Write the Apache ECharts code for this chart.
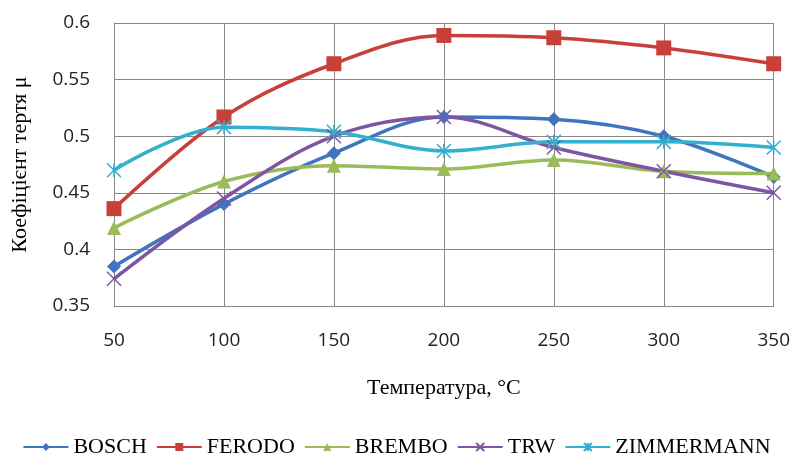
<!DOCTYPE html>
<html>
<head>
    <meta charset="UTF-8">
    <title>Коефіцієнт тертя</title>
    <script src="https://cdn.jsdelivr.net/npm/echarts/dist/echarts.min.js"></script>
</head>
<body style="margin:0;">
    <div id="chart" style="width: 793px; height: 457px;"></div>

    <script type="text/javascript">
        var chart = echarts.init(document.getElementById('chart'));

        // температури, °C
        var temps = [50, 100, 150, 200, 250, 300, 350];

        // коефіцієнт тертя по маркам
        var bosch = [0.385, 0.44, 0.485, 0.517, 0.515, 0.5, 0.464];
        var ferodo = [0.436, 0.517, 0.564, 0.589, 0.587, 0.578, 0.564];
        var brembo = [0.419, 0.46, 0.474, 0.471, 0.479, 0.469, 0.467];
        var trw = [0.374, 0.445, 0.5, 0.517, 0.49, 0.469, 0.45];
        var zimmermann = [0.47, 0.508, 0.504, 0.487, 0.495, 0.495, 0.49];

        var xPath = 'path://M0,0L10,10M10,0L0,10';
        var starPath = 'path://M0,0L10,10M10,0L0,10M5,0L5,10';

        function pairs(vals) {
            return temps.map(function (t, i) { return [t, vals[i]]; });
        }

        function mk(name, vals, color, symbol, size, strokeOnly) {
            return {
                name: name,
                type: 'line',
                smooth: 0.35,
                data: pairs(vals),
                symbol: symbol,
                symbolSize: size,
                lineStyle: { color: color, width: 3.5 },
                itemStyle: strokeOnly
                    ? { color: 'none', borderColor: color, borderWidth: 1.5 }
                    : { color: color, borderWidth: 0 }
            };
        }

        var tickFont = { fontFamily: 'Open Sans', fontSize: 19, color: '#222' };
        var titleFont = { fontFamily: 'Liberation Serif', fontSize: 22, color: '#000' };

        var option = {
            animation: false,
            grid: { left: 114, right: 19, top: 23, bottom: 151 },
            legend: {
                top: 436,
                left: 'center',
                padding: 0,
                itemWidth: 45,
                itemHeight: 10,
                itemGap: 9,
                textStyle: { fontFamily: 'Liberation Serif', fontSize: 22, color: '#000' }
            },
            xAxis: {
                type: 'value',
                min: 50, max: 350, interval: 50,
                name: 'Температура, °C',
                nameLocation: 'middle',
                nameGap: 71,
                nameTextStyle: titleFont,
                axisLine: { lineStyle: { color: '#888' } },
                axisTick: { show: false },
                axisLabel: Object.assign({ margin: 25 }, tickFont),
                splitLine: { lineStyle: { color: '#888' } }
            },
            yAxis: {
                type: 'value',
                min: 0.35, max: 0.6, interval: 0.05,
                name: 'Коефіцієнт тертя μ',
                nameLocation: 'middle',
                nameGap: 83,
                nameTextStyle: titleFont,
                axisLine: { show: true, lineStyle: { color: '#888' } },
                axisTick: { show: false },
                axisLabel: Object.assign({ margin: 24 }, tickFont),
                splitLine: { lineStyle: { color: '#888' } }
            },
            series: [
                mk('BOSCH', bosch, '#3F74BE', 'diamond', 14, false),
                mk('FERODO', ferodo, '#C9403B', 'rect', 15, false),
                mk('BREMBO', brembo, '#9BBB59', 'triangle', 14, false),
                mk('TRW', trw, '#7F55A3', xPath, 14, true),
                mk('ZIMMERMANN', zimmermann, '#32B0CF', starPath, 14, true)
            ]
        };

        chart.setOption(option);
    </script>
</body>
</html>
